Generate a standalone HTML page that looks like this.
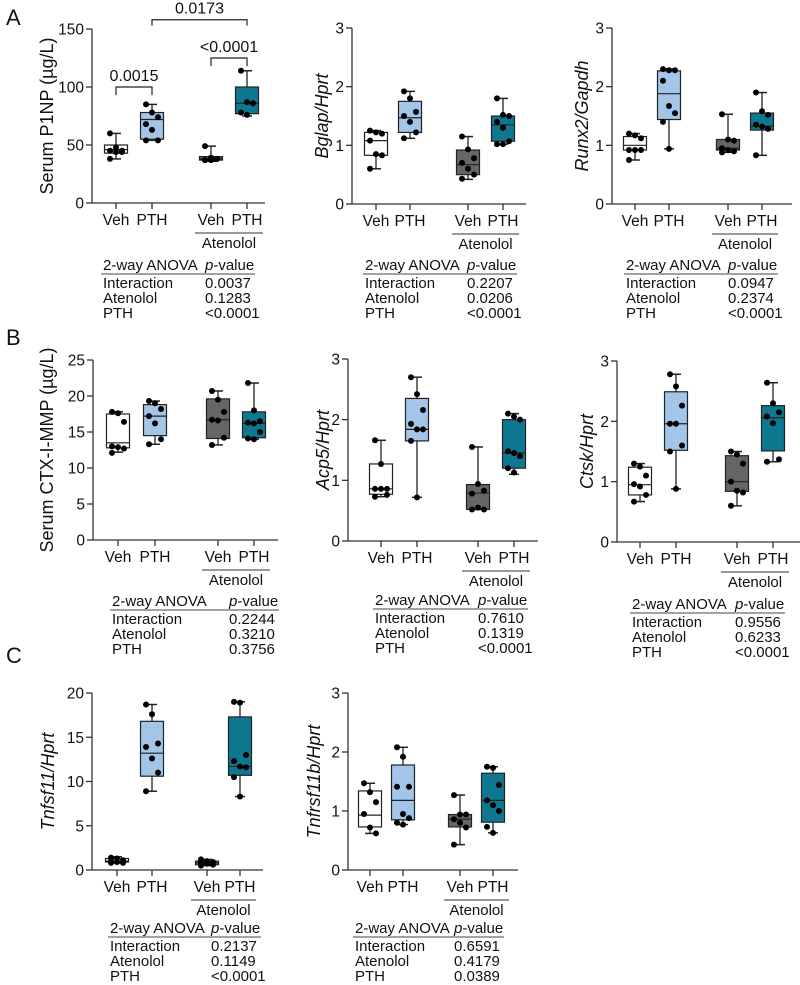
<!DOCTYPE html>
<html><head><meta charset="utf-8"><style>
html,body{margin:0;padding:0;background:#fff}
svg{display:block}
text{font-family:"Liberation Sans",Arial,sans-serif;fill:#111}
</style></head><body>
<svg id="fig" width="800" height="985" viewBox="0 0 800 985">
<text x="6" y="25" font-size="22">A</text>
<text x="6" y="345" font-size="22">B</text>
<text x="6" y="663" font-size="22">C</text>
</svg>
<script>
// ---- data: [min, q1, median, q3, max] per group (Veh, PTH, Atenolol+Veh, Atenolol+PTH) ----
const groups = ["Veh","PTH","Veh","PTH"];
const p1npBoxes = [[38,43,46,50,60],[54,55,72,78,85],[36,37,38,40,49],[75,77,86,100,114]];
const p1npPoints = [[60,48,45,45,44,44,38],[85,78,74,68,63,54,54],[49,39,38,37,37,38,37],[114,87,86,78,76]];
const bglapBoxes = [[0.6,0.83,1.08,1.22,1.25],[1.12,1.22,1.47,1.75,1.92],[0.42,0.5,0.67,0.92,1.15],[1.02,1.07,1.35,1.5,1.8]];
const bglapPoints = [[1.25,1.22,1.2,1.08,0.85,0.83,0.6],[1.92,1.8,1.57,1.5,1.4,1.22,1.12],[1.15,0.93,0.78,0.7,0.6,0.5,0.43],[1.8,1.52,1.5,1.4,1.3,1.07,1.02,1.02]];
const runx2Boxes = [[0.75,0.92,1.0,1.15,1.2],[0.94,1.44,1.88,2.27,2.3],[0.88,0.92,0.95,1.1,1.53],[0.83,1.26,1.33,1.55,1.9]];
const runx2Points = [[1.2,1.17,1.12,0.92,0.92,0.92,0.75],[2.3,2.28,2.28,2.1,1.67,1.55,1.4,0.94],[1.53,1.1,1.08,0.95,0.92,0.9,0.88],[1.9,1.58,1.52,1.35,1.32,1.28,0.83]];
const ctxBoxes = [[12.2,12.8,13.5,17.5,17.8],[13.3,14.5,17.2,18.8,19.3],[13.2,14.1,16.7,19.6,20.7],[14,14.2,16.2,17.8,21.8]];
const ctxPoints = [[17.8,17.6,16.4,13.0,12.9,12.7,12.1],[19.3,19.0,18.2,17.2,16.2,14.0,13.3],[20.7,19.5,17.8,16.7,16.6,14.2,13.2],[21.8,18,16.5,16.3,16.2,15.0,14.1,14.0]];
const acp5Boxes = [[0.73,0.77,0.86,1.27,1.66],[0.72,1.65,1.84,2.35,2.7],[0.52,0.52,0.79,0.93,1.55],[1.1,1.2,1.45,2.0,2.1]];
const acp5Points = [[1.66,1.27,0.86,0.86,0.86,0.76,0.73],[2.7,2.42,2.16,1.93,1.84,1.84,1.65,0.72],[1.55,0.94,0.83,0.78,0.55,0.52,0.52],[2.1,2.05,2.0,1.48,1.45,1.4,1.2,1.13]];
const ctskBoxes = [[0.67,0.78,0.95,1.24,1.3],[0.88,1.52,1.96,2.49,2.78],[0.6,0.84,1.0,1.43,1.5],[1.33,1.51,2.06,2.26,2.64]];
const ctskPoints = [[1.3,1.25,1.1,0.96,0.92,0.78,0.67],[2.78,2.58,2.26,1.96,1.96,1.6,1.5,0.88],[1.5,1.45,1.3,1.0,0.85,0.82,0.6],[2.64,2.3,2.15,2.08,1.97,1.37,1.33]];
const tnfsf11Boxes = [[0.8,0.9,1.0,1.3,1.5],[8.9,10.6,13.2,16.8,18.7],[0.5,0.6,0.8,1.0,1.2],[8.3,10.7,11.7,17.3,19.0]];
const tnfsf11Points = [[1.4,1.3,1.1,1.0,0.9,0.8,0.8],[18.7,17.6,14.3,13.9,12.6,11.0,8.9],[1.2,1.0,0.9,0.8,0.7,0.6,0.5],[19.0,18.9,13.0,12.3,11.7,11.6,10.5,8.3]];
const tnfrsf11bBoxes = [[0.62,0.73,0.93,1.34,1.47],[0.77,0.85,1.18,1.78,2.08],[0.43,0.73,0.86,0.94,1.27],[0.63,0.81,1.18,1.64,1.75]];
const tnfrsf11bPoints = [[1.47,1.32,1.15,0.95,0.72,0.62],[2.08,1.92,1.41,1.41,0.95,0.88,0.8,0.77],[1.27,0.94,0.94,0.86,0.8,0.72,0.43],[1.75,1.73,1.44,1.18,1.1,1.0,0.73,0.63]];
const ticks3 = [0,1,2,3];
const ticksP1np = [0,50,100,150];
const ticksCtx = [0,5,10,15,20,25];
const ticksTnfsf = [0,5,10,15,20];
const anovaP1np = ["0.0037","0.1283","<0.0001"];
const anovaBglap = ["0.2207","0.0206","<0.0001"];
const anovaRunx2 = ["0.0947","0.2374","<0.0001"];
const anovaCtx = ["0.2244","0.3210","0.3756"];
const anovaAcp5 = ["0.7610","0.1319","<0.0001"];
const anovaCtsk = ["0.9556","0.6233","<0.0001"];
const anovaTnfsf11 = ["0.2137","0.1149","<0.0001"];
const anovaTnfrsf11b = ["0.6591","0.4179","0.0389"];
const anovaTerms = ["Interaction","Atenolol","PTH"];
const sigLabels = ["0.0015","<0.0001","0.0173"];

const fills = ["#ffffff","#a2c5e8","#666666","#0f7891"];
const svg = document.getElementById('fig');
const NS = "http://www.w3.org/2000/svg";
function mk(tag, attrs, parent){
  const e = document.createElementNS(NS, tag);
  for (const k in attrs) e.setAttribute(k, attrs[k]);
  (parent||svg).appendChild(e);
  return e;
}
const panels = [
 {id:"p1np", ax:92,y0:203,yt:29,xe:265,cats:[116,152,211,247],max:150,ticks:ticksP1np,boxes:p1npBoxes,pts:p1npPoints,label:"Serum P1NP (µg/L)",it:false,lx:47,tx:103,px:205,ty:265,anova:anovaP1np},
 {id:"bglap", ax:352,y0:204,yt:28,xe:526,cats:[376,410,468,503],max:3,ticks:ticks3,boxes:bglapBoxes,pts:bglapPoints,label:"Bglap/Hprt",it:true,lx:322,tx:365,px:467,ty:265,anova:anovaBglap},
 {id:"runx2", ax:612,y0:204,yt:28,xe:792,cats:[635,669,728,762],max:3,ticks:ticks3,boxes:runx2Boxes,pts:runx2Points,label:"Runx2/Gapdh",it:true,lx:582,tx:626,px:728,ty:265,anova:anovaRunx2},
 {id:"ctx", ax:93,y0:540,yt:360,xe:278,cats:[118,155,218,254],max:25,ticks:ticksCtx,boxes:ctxBoxes,pts:ctxPoints,label:"Serum CTX-I-MMP (µg/L)",it:false,lx:47,tx:112,px:229,ty:601,anova:anovaCtx},
 {id:"acp5", ax:348,y0:541,yt:359,xe:538,cats:[381,417,478,514],max:3,ticks:ticks3,boxes:acp5Boxes,pts:acp5Points,label:"Acp5/Hprt",it:true,lx:323,tx:375,px:478,ty:600,anova:anovaAcp5},
 {id:"ctsk", ax:617,y0:542,yt:361,xe:800,cats:[640,676,737,773],max:3,ticks:ticks3,boxes:ctskBoxes,pts:ctskPoints,label:"Ctsk/Hprt",it:true,lx:587,tx:632,px:735,ty:604,anova:anovaCtsk},
 {id:"tnfsf11", ax:92,y0:870,yt:693,xe:263,cats:[117,152,207,240],max:20,ticks:ticksTnfsf,boxes:tnfsf11Boxes,pts:tnfsf11Points,label:"Tnfsf11/Hprt",it:true,lx:48,tx:110,px:211,ty:928,anova:anovaTnfsf11},
 {id:"tnfrsf11b", ax:348,y0:870,yt:693,xe:518,cats:[370,403,460,493],max:3,ticks:ticks3,boxes:tnfrsf11bBoxes,pts:tnfrsf11bPoints,label:"Tnfrsf11b/Hprt",it:true,lx:314,tx:355,px:454,ty:928,anova:anovaTnfrsf11b}
];
let A1y = null;
panels.forEach(P=>{
  const g = mk('g',{});
  
  
  const y = v => P.y0 - v/P.max*(P.y0-P.yt);
  if (P.id==="p1np") A1y = y;
  const ya = mk('line',{x1:P.ax,y1:P.yt,x2:P.ax,y2:P.y0,stroke:"#333","stroke-width":1.3},g);
  
  
  P.ticks.forEach(t=>{
    mk('line',{x1:P.ax-6,y1:y(t),x2:P.ax,y2:y(t),stroke:"#333","stroke-width":1.3},g);
    const tl = mk('text',{x:P.ax-8,y:y(t)+5.5,"font-size":15.5,"text-anchor":"end"},g);
    tl.textContent = t;
    
    
  });
  const xa = mk('line',{x1:P.ax,y1:P.y0,x2:P.xe,y2:P.y0,stroke:"#333","stroke-width":1.3},g);
  
  
  const my = (P.yt+P.y0)/2;
  const lab = mk('text',{x:P.lx,y:my,"font-size":18,"text-anchor":"middle","dominant-baseline":"central",transform:`rotate(-90 ${P.lx} ${my})`,"font-style":P.it?"italic":"normal"},g);
  lab.textContent = P.label;
  
  
  P.boxes.forEach((b,i)=>{
    const cx = P.cats[i], w=23;
    mk('line',{x1:cx,y1:P.y0,x2:cx,y2:P.y0+6,stroke:"#333","stroke-width":1.3},g);
    const xl = mk('text',{x:cx,y:P.y0+22,"font-size":15.5,"text-anchor":"middle"},g);
    xl.textContent = groups[i];
    
    
    mk('line',{x1:cx,y1:y(b[0]),x2:cx,y2:y(b[4]),stroke:"#222","stroke-width":1.3},g);
    mk('line',{x1:cx-5,y1:y(b[0]),x2:cx+5,y2:y(b[0]),stroke:"#222","stroke-width":1.5},g);
    mk('line',{x1:cx-5,y1:y(b[4]),x2:cx+5,y2:y(b[4]),stroke:"#222","stroke-width":1.5},g);
    const r = mk('rect',{x:cx-w/2,y:y(b[3]),width:w,height:Math.max(1,y(b[1])-y(b[3])),fill:fills[i],stroke:"#222","stroke-width":1.2},g);
    
    
    mk('line',{x1:cx-w/2,y1:y(b[2]),x2:cx+w/2,y2:y(b[2]),stroke:"#222","stroke-width":1.2},g);
    const pts = P.pts[i], n = pts.length;
    pts.forEach((v,j)=>{
      const off = n>1 ? ((j%3)-1)*6 : 0;
      const c = mk('circle',{cx:cx+off,cy:y(v),r:3,fill:"#000"},g);
      
      
    });
  });
  const ly = P.y0+30;
  mk('line',{x1:P.cats[2]-16,y1:ly,x2:P.cats[3]+16,y2:ly,stroke:"#333","stroke-width":1},g);
  const at = mk('text',{x:(P.cats[2]+P.cats[3])/2,y:ly+15,"font-size":15,"text-anchor":"middle"},g);
  at.textContent = "Atenolol";
  
  
  const tb = mk('g',{},g);
  
  
  const h1 = mk('text',{x:P.tx,y:P.ty+5,"font-size":15},tb); h1.textContent="2-way ANOVA";
  const h2 = mk('text',{x:P.px,y:P.ty+5,"font-size":15},tb);
  const ip = mk('tspan',{"font-style":"italic"},h2); ip.textContent="p";
  const rest = mk('tspan',{},h2); rest.textContent="-value";
  mk('line',{x1:P.tx-2,y1:P.ty+9,x2:P.px+50,y2:P.ty+9,stroke:"#444","stroke-width":1},tb);
  anovaTerms.forEach((t,k)=>{
    const a = mk('text',{x:P.tx,y:P.ty+23+k*15,"font-size":15},tb); a.textContent=t;
    const b = mk('text',{x:P.px,y:P.ty+23+k*15,"font-size":15},tb); b.textContent=P.anova[k];
  });
});
const P0 = panels[0];
const brackets = [[0,1,100,93],[2,3,125,118],[1,3,158,153]];
brackets.forEach((br,k)=>{
  const x1 = P0.cats[br[0]], x2 = P0.cats[br[1]];
  const yt = A1y(br[2]), yb = A1y(br[3]);
  const p = mk('path',{d:`M${x1},${yb} L${x1},${yt} L${x2},${yt} L${x2},${yb}`,fill:"none",stroke:"#222","stroke-width":1.2});
  
  
  const t = mk('text',{x:(x1+x2)/2,y:yt-6,"font-size":16,"text-anchor":"middle"});
  t.textContent = sigLabels[k];
  
  
});
</script>
</body></html>
